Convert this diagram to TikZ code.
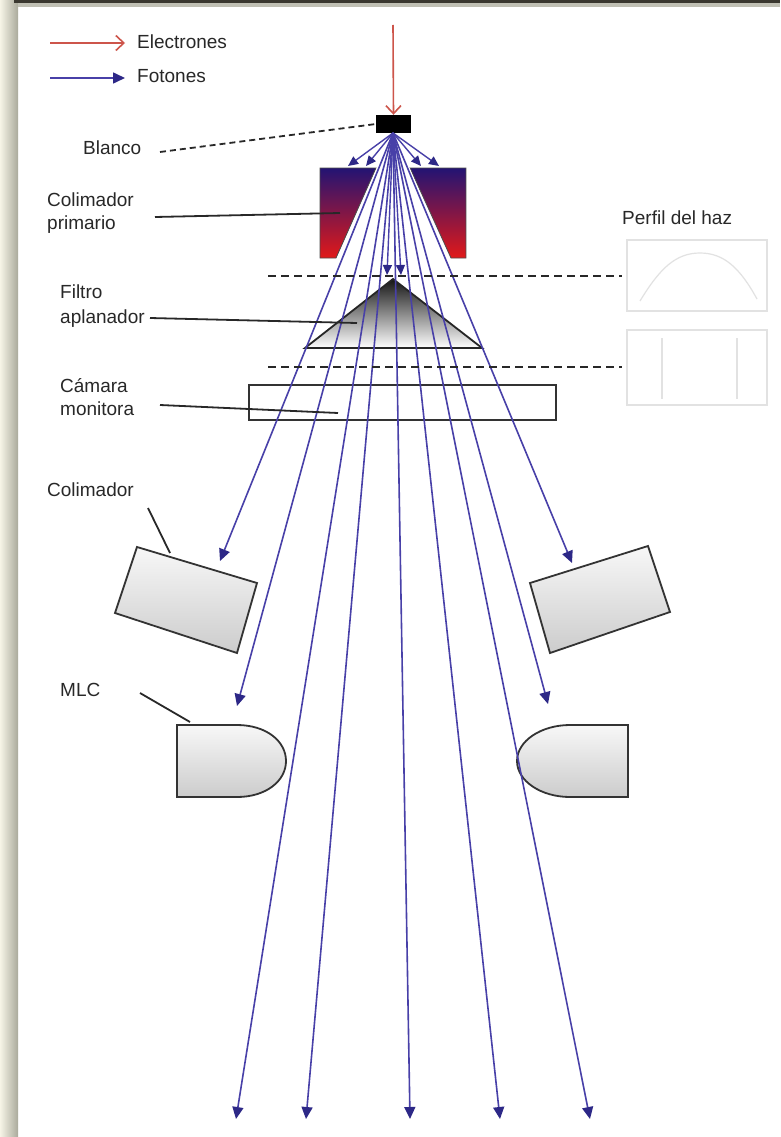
\documentclass[tikz,border=0pt]{standalone}
\usepackage{fontspec}
\setmainfont{Liberation Sans}
\usetikzlibrary{arrows.meta}
\definecolor{photon}{RGB}{72,64,168}
\definecolor{photontip}{RGB}{45,40,135}
\definecolor{electron}{RGB}{205,85,75}
\definecolor{ink}{RGB}{40,40,40}
\definecolor{collitop}{RGB}{35,20,115}
\definecolor{collibot}{RGB}{225,25,25}
\definecolor{profile}{RGB}{226,226,226}
\definecolor{frameL}{RGB}{246,244,230}
\definecolor{frameR}{RGB}{170,170,156}
\definecolor{frameTop}{RGB}{58,56,48}
\definecolor{frameStrip}{RGB}{192,192,180}
\newcommand{\lbl}{\fontsize{19}{23}\selectfont}
\tikzset{
  photonray/.style={draw=photon, line width=1.6pt,
    -{Triangle[length=12pt,width=11pt,fill=photontip,color=photontip]}},
  photonshort/.style={draw=photon, line width=1.4pt,
    -{Triangle[length=10pt,width=9pt,fill=photontip,color=photontip]}},
  electronray/.style={draw=electron, line width=1.6pt,
    -{Straight Barb[length=8pt,width=15pt,line width=1.6pt]}},
  leader/.style={draw=ink, line width=1.8pt},
  leaderdash/.style={draw=ink, line width=1.8pt, dash pattern=on 6pt off 4pt},
  guide/.style={draw=ink, line width=1.8pt, dash pattern=on 8pt off 5pt},
  label/.style={anchor=west, inner sep=0pt, text=ink, font=\lbl, align=left},
  blockline/.style={draw=black!80, line width=1.8pt},
  grayblock/.style={blockline, top color=gray!6, bottom color=gray!40},
}
\begin{document}
\begin{tikzpicture}[x=1pt,y=-1pt]
\useasboundingbox (0,0) rectangle (780,1137);
% page frame
\fill[white] (0,0) rectangle (780,1137);
\shade[left color=frameL, right color=frameR] (0,0) rectangle (18,1137);
\fill[frameTop] (14,0) rectangle (780,3);
\fill[frameStrip] (18,3) rectangle (780,7);

% legend
\coordinate (eA) at (50,43);  \coordinate (eB) at (125,43);
\coordinate (fA) at (50,78);  \coordinate (fB) at (125,78);
\draw[electronray] (eA) -- (eB);
\draw[photonray] (fA) -- (fB);
\node[label] (lgE) at (137,42) {Electrones};
\node[label] (lgF) at (137,76) {Fotones};

% primary collimator jaws
\path[top color=collitop, bottom color=collibot, draw=black!70, line width=0.8pt]
  (320,168) -- (376,168) -- (336,258) -- (320,258) -- cycle;
\path[top color=collitop, bottom color=collibot, draw=black!70, line width=0.8pt]
  (410,168) -- (466,168) -- (466,258) -- (451,258) -- cycle;

% flattening filter
\path[top color=black!92, bottom color=white, draw=black!85, line width=1.8pt]
  (393,279) -- (482,348) -- (305,348) -- cycle;

% monitor chamber
\draw[blockline] (249,385) rectangle (556,420);

% secondary collimators
\path[grayblock] (137,547) -- (257,583) -- (237,653) -- (115,613) -- cycle;
\path[grayblock] (530,583) -- (648,546) -- (670,612) -- (550,653) -- cycle;

% multileaf collimator
\path[grayblock] (177,725) -- (237,725) .. controls (266,725) and (286,741) .. (286,761)
  .. controls (286,781) and (266,797) .. (237,797) -- (177,797) -- cycle;
\path[grayblock] (628,725) -- (570,725) .. controls (541,725) and (517,741) .. (517,761)
  .. controls (517,781) and (541,797) .. (570,797) -- (628,797) -- cycle;

% target
\node[fill=black, minimum width=35pt, minimum height=18pt, inner sep=0pt] (target) at (393.5,124) {};
\coordinate (src) at (393,133);

% ray end points
\coordinate (c1) at (348,166); \coordinate (c2) at (366,166);
\coordinate (c3) at (421,166); \coordinate (c4) at (439,166);
\coordinate (f1) at (387,275); \coordinate (f2) at (401,275);
\coordinate (a1) at (220,561); \coordinate (a2) at (572,563);
\coordinate (m1) at (237,706); \coordinate (m2) at (548,704);
\coordinate (b1) at (236,1119); \coordinate (b2) at (306,1119);
\coordinate (b3) at (410,1119); \coordinate (b4) at (500,1119);
\coordinate (b5) at (590,1119);

% light halo of the beam inside the primary collimator
\begin{scope}
  \clip (318,168) rectangle (468,259);
  \foreach \e in {a1,a2,m1,m2,b1,b2,b3,b4,b5}
    \draw[white, line width=3.8pt] (src) -- (\e);
\end{scope}

% photon beam
\foreach \e in {c1,c2,c3,c4,f1,f2}
  \draw[photonshort] (src) -- (\e);
\foreach \e in {a1,a2,m1,m2,b1,b2,b3,b4,b5}
  \draw[photonray] (src) -- (\e);

% electron beam
\coordinate (eTop) at (393,25);
\draw[electronray] (eTop) -- (target.north);

% beam profile planes
\coordinate (g1a) at (268,276); \coordinate (g1b) at (622,276);
\coordinate (g2a) at (268,367); \coordinate (g2b) at (622,367);
\draw[guide] (g1a) -- (g1b);
\draw[guide] (g2a) -- (g2b);
\node[label] (perfil) at (622,218) {Perfil del haz};
\draw[profile, line width=1.2pt] (627,240) rectangle (767,311);
\draw[profile, line width=1.2pt] (640,301) .. controls (660,268) and (676,253) .. (700,253)
  .. controls (724,253) and (740,268) .. (757,299);
\draw[profile, line width=1.2pt] (627,330) rectangle (767,405);
\draw[profile, line width=1.2pt] (662,338) -- (662,399);
\draw[profile, line width=1.2pt] (737,338) -- (737,399);

% labels and leaders
\node[label] (lBlanco) at (83,148) {Blanco};
\coordinate (pBlanco) at (376,124);
\draw[leaderdash] (160,152) -- (pBlanco);

\node[label] (lPrim) at (47,213) {Colimador\\primario};
\coordinate (pPrim) at (340,213);
\draw[leader] (155,217) -- (pPrim);

\node[label] (lFiltro) at (60,306) {Filtro\\[2pt]aplanador};
\coordinate (pFiltro) at (357,323);
\draw[leader] (150,318) -- (pFiltro);

\node[label] (lCamara) at (60,397) {C\'amara\\monitora};
\coordinate (pCamara) at (338,413);
\draw[leader] (160,405) -- (pCamara);

\node[label] (lColim) at (47,490) {Colimador};
\coordinate (pColim) at (170,553);
\draw[leader] (148,508) -- (pColim);

\node[label] (lMLC) at (60,690) {MLC};
\coordinate (pMLC) at (190,722);
\draw[leader] (140,693) -- (pMLC);
\end{tikzpicture}
\end{document}
